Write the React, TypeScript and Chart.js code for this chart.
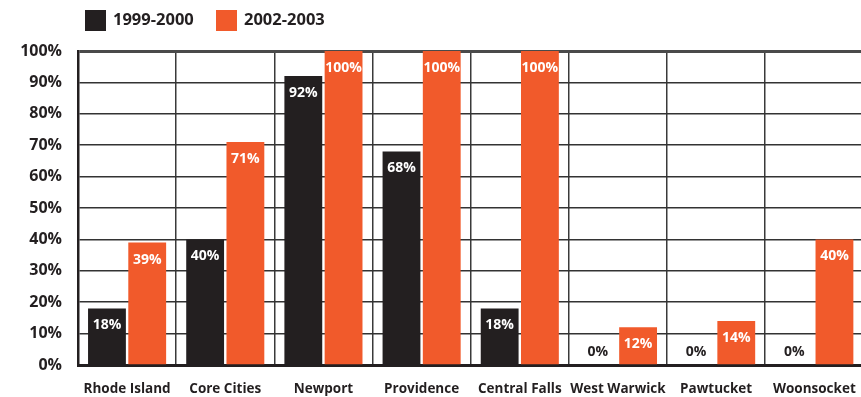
import React, { useEffect, useRef } from "react";
import { Chart, registerables } from "chart.js";

Chart.register(...registerables);

const categories = ["Rhode Island", "Core Cities", "Newport", "Providence", "Central Falls", "West Warwick", "Pawtucket", "Woonsocket"];
const seriesLabels = ["1999-2000", "2002-2003"];
const values1999 = [18, 40, 92, 68, 18, 0, 0, 0];
const values2002 = [39, 71, 100, 100, 100, 12, 14, 40];
const seriesColors = ["#231f20", "#f15a2b"];
const TEXT = "#231f20";
const FONT = "'Open Sans', 'Noto Sans', sans-serif";

const legendPlugin = {
  id: "customLegend",
  afterDraw(chart: any) {
    const ctx = chart.ctx;
    ctx.save();
    ctx.font = `bold 16.5px ${FONT}`;
    ctx.textBaseline = "middle";
    const starts = [85, 216];
    chart.data.datasets.forEach((ds: any, i: number) => {
      const x = starts[i];
      ctx.fillStyle = ds.backgroundColor;
      ctx.fillRect(x, 10, 21, 21);
      ctx.fillStyle = TEXT;
      ctx.textAlign = "left";
      ctx.fillText(ds.label, x + 28, 20);
    });
    ctx.restore();
  },
};

const valueLabelPlugin = {
  id: "valueLabels",
  afterDatasetsDraw(chart: any) {
    const ctx = chart.ctx;
    ctx.save();
    ctx.font = `bold 14px ${FONT}`;
    ctx.textAlign = "center";
    ctx.textBaseline = "middle";
    chart.data.datasets.forEach((ds: any, di: number) => {
      const meta = chart.getDatasetMeta(di);
      meta.data.forEach((bar: any, i: number) => {
        const v = ds.data[i];
        if (v === 0) {
          ctx.fillStyle = TEXT;
          ctx.fillText(v + "%", bar.x, bar.base - 13);
        } else {
          ctx.fillStyle = "#ffffff";
          ctx.fillText(v + "%", bar.x, bar.y + 17);
        }
      });
    });
    ctx.restore();
  },
};

export default function App() {
  const ref = useRef<HTMLCanvasElement | null>(null);
  useEffect(() => {
    if (!ref.current) return;
    const chart = new Chart(ref.current, {
      type: "bar",
      data: {
        labels: categories,
        datasets: [
          { label: seriesLabels[0], data: values1999, backgroundColor: seriesColors[0], categoryPercentage: 0.82, barPercentage: 0.94 },
          { label: seriesLabels[1], data: values2002, backgroundColor: seriesColors[1], categoryPercentage: 0.82, barPercentage: 0.94 },
        ],
      },
      options: {
        animation: false,
        responsive: false,
        maintainAspectRatio: false,
        layout: { padding: { top: 51, right: 4, bottom: 0, left: 0 } },
        plugins: { legend: { display: false }, tooltip: { enabled: false } },
        scales: {
          x: {
            grid: { display: true, offset: true, drawTicks: false, color: "#3a3a3a", lineWidth: 1.5 },
            border: { display: true, color: TEXT, width: 3 },
            ticks: { color: TEXT, font: { family: FONT, weight: "bold", size: 13.5 }, padding: 16, maxRotation: 0, autoSkip: false },
            afterFit: (s: any) => { s.height = 32; },
          },
          y: {
            min: 0,
            max: 100,
            grid: {
              drawTicks: false,
              color: (c: any) => (c.tick && c.tick.value === 100 ? "#4a4a4a" : "#333333"),
              lineWidth: (c: any) => (c.tick && c.tick.value === 100 ? 3 : 1.5),
            },
            border: { display: true, color: TEXT, width: 2.5 },
            ticks: { stepSize: 10, color: TEXT, padding: 16, font: { family: FONT, weight: "bold", size: 16 }, callback: (v: any) => v + "%" },
            afterFit: (s: any) => { s.width = 78; },
          },
        },
      },
      plugins: [legendPlugin, valueLabelPlugin],
    });
    return () => chart.destroy();
  }, []);
  return (
    <div style={{ position: "fixed", left: 0, top: 0, width: 861, height: 397, overflow: "hidden", background: "#fff" }}>
      <canvas ref={ref} width={872} height={397} style={{ display: "block", width: 872, height: 397 }} />
    </div>
  );
}
